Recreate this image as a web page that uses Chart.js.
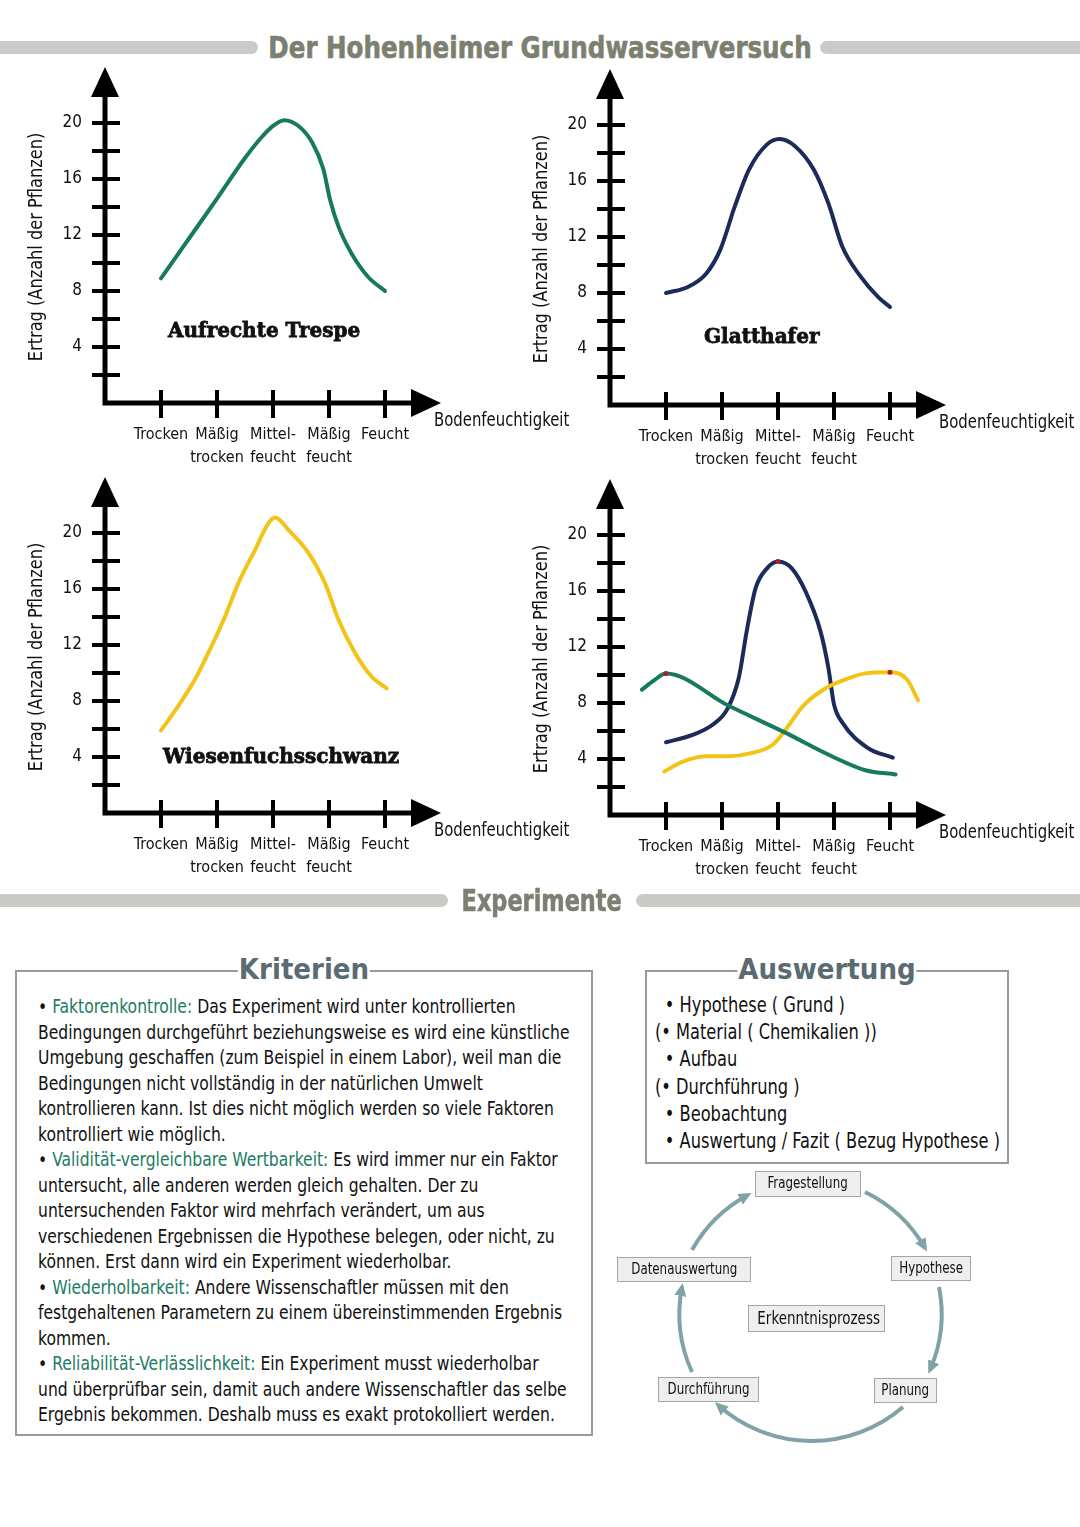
<!DOCTYPE html>
<html lang="de">
<head>
<meta charset="utf-8">
<title>Der Hohenheimer Grundwasserversuch</title>
<script src="https://cdn.jsdelivr.net/npm/chart.js@4.4.1/dist/chart.umd.min.js"></script>
<style>
 :root { --hand: "Liberation Sans Narrow", "DejaVu Sans Condensed", "Arial Narrow", sans-serif; }
 body { margin: 0; background: #fff; }
 #page { position: relative; width: 1080px; height: 1527px; overflow: hidden; font-family: var(--hand); color: #111; }
 canvas { position: absolute; }
 .bar { position: absolute; height: 13px; background: #c9cbc6; }
 .bar.l { border-radius: 0 7px 7px 0; }
 .bar.r { border-radius: 7px 0 0 7px; }
 .head { position: absolute; text-align: center; font-weight: bold; color: #7b8070; font-size: 30px; line-height: 40px; transform-origin: 540px 50%; -webkit-text-stroke: 0.6px #7b8070; }
 .species { position: absolute; font-family: "DejaVu Serif", serif; font-weight: bold; font-size: 20px; line-height: 24px; color: #111; -webkit-text-stroke: 0.8px #111; }
 .box { position: absolute; border: 2px solid #9a9a9a; box-sizing: border-box; }
 .boxtitle { position: absolute; top: -20px; left: 50%; transform: translateX(-50%); background: #fff; padding: 0 1px; font-weight: bold; font-size: 29px; line-height: 34px; color: #5a6b74; }
 .crit { position: absolute; left: 21px; top: 22px; font-size: 20px; line-height: 25.5px; white-space: nowrap; transform: scaleX(0.866); transform-origin: 0 0; }
 .crit b { font-weight: normal; color: #1c7c64; }
 .eval { position: absolute; left: 8px; top: 19px; font-size: 22px; line-height: 27.2px; white-space: nowrap; transform: scaleX(0.82); transform-origin: 0 0; }
 .eval .in { padding-left: 12px; }
 .step { position: absolute; background: #efefef; border: 1.5px solid #a5a5a5; box-sizing: border-box; font-size: 15px; text-align: center; white-space: nowrap; }
 .step span { display: inline-block; transform: scaleX(0.88); }
</style>
</head>
<body>
<div id="page">

 <!-- top header -->
 <div class="bar l" style="left:0;top:41px;width:258px"></div>
 <div class="bar r" style="left:820px;top:41px;width:260px"></div>
 <div class="head" style="left:0;top:28px;width:1080px;transform:scaleX(0.91)">Der Hohenheimer Grundwasserversuch</div>

 <canvas id="chartTrespe" width="575" height="430" style="left:0;top:60px"></canvas>
 <canvas id="chartHafer" width="575" height="430" style="left:505px;top:62px"></canvas>
 <canvas id="chartFuchs" width="575" height="430" style="left:0;top:470px"></canvas>
 <canvas id="chartAll" width="575" height="430" style="left:505px;top:472px"></canvas>

 <div class="species" style="left:168px;top:318px">Aufrechte Trespe</div>
 <div class="species" style="left:704px;top:324px">Glatthafer</div>
 <div class="species" style="left:163px;top:744px">Wiesenfuchsschwanz</div>

 <!-- second header -->
 <div class="bar l" style="left:0;top:894px;width:448px"></div>
 <div class="bar r" style="left:636px;top:894px;width:444px"></div>
 <div class="head" style="left:0;top:881px;width:1084px;transform:scaleX(0.83)">Experimente</div>

 <div class="box" style="left:15px;top:970px;width:578px;height:466px">
  <div class="boxtitle">Kriterien</div>
  <div class="crit">
   • <b>Faktorenkontrolle:</b> Das Experiment wird unter kontrollierten<br>
   Bedingungen durchgeführt beziehungsweise es wird eine künstliche<br>
   Umgebung geschaffen (zum Beispiel in einem Labor), weil man die<br>
   Bedingungen nicht vollständig in der natürlichen Umwelt<br>
   kontrollieren kann. Ist dies nicht möglich werden so viele Faktoren<br>
   kontrolliert wie möglich.<br>
   • <b>Validität-vergleichbare Wertbarkeit:</b> Es wird immer nur ein Faktor<br>
   untersucht, alle anderen werden gleich gehalten. Der zu<br>
   untersuchenden Faktor wird mehrfach verändert, um aus<br>
   verschiedenen Ergebnissen die Hypothese belegen, oder nicht, zu<br>
   können. Erst dann wird ein Experiment wiederholbar.<br>
   • <b>Wiederholbarkeit:</b> Andere Wissenschaftler müssen mit den<br>
   festgehaltenen Parametern zu einem übereinstimmenden Ergebnis<br>
   kommen.<br>
   • <b>Reliabilität-Verlässlichkeit:</b> Ein Experiment musst wiederholbar<br>
   und überprüfbar sein, damit auch andere Wissenschaftler das selbe<br>
   Ergebnis bekommen. Deshalb muss es exakt protokolliert werden.
  </div>
 </div>

 <div class="box" style="left:645px;top:970px;width:364px;height:194px">
  <div class="boxtitle">Auswertung</div>
  <div class="eval">
   <div class="in">• Hypothese ( Grund )</div>
   <div>(• Material ( Chemikalien ))</div>
   <div class="in">• Aufbau</div>
   <div>(• Durchführung )</div>
   <div class="in">• Beobachtung</div>
   <div class="in">• Auswertung / Fazit ( Bezug Hypothese )</div>
  </div>
 </div>

 <!-- cycle of the research process -->
 <svg width="1080" height="1527" style="position:absolute;left:0;top:0">
  <defs>
   <marker id="head" markerWidth="14" markerHeight="14" refX="9" refY="7" orient="auto" markerUnits="userSpaceOnUse">
    <path d="M0,1 L13,7 L0,13 z" fill="#7fa3a6"/>
   </marker>
  </defs>
  <g fill="none" stroke="#7fa3a6" stroke-width="4" marker-end="url(#head)">
   <path d="M692 1250 A140 140 0 0 1 748 1195"/>
   <path d="M865 1192 A140 140 0 0 1 925 1248"/>
   <path d="M939 1287 A140 140 0 0 1 930 1370"/>
   <path d="M903 1407 A140 140 0 0 1 718 1405"/>
   <path d="M692 1372 A140 140 0 0 1 682 1287"/>
  </g>
 </svg>
 <div class="step" style="left:755px;top:1171px;width:106px;height:26px;line-height:23px"><span>Fragestellung</span></div>
 <div class="step" style="left:617px;top:1257px;width:134px;height:25px;line-height:22px"><span>Datenauswertung</span></div>
 <div class="step" style="left:891px;top:1256px;width:80px;height:25px;line-height:22px"><span>Hypothese</span></div>
 <div class="step" style="left:748px;top:1305px;width:137px;height:27px;line-height:24px;font-size:17px"><span>Erkenntnisprozess</span></div>
 <div class="step" style="left:658px;top:1377px;width:101px;height:25px;line-height:22px"><span>Durchführung</span></div>
 <div class="step" style="left:874px;top:1378px;width:63px;height:25px;line-height:22px"><span>Planung</span></div>
</div>

<script>
'use strict';

// x axis: soil moisture steps and their labels
const moistureSteps = [1, 2, 3, 4, 5]
const moistureLabels = [['Trocken'], ['Mäßig', 'trocken'], ['Mittel-', 'feucht'], ['Mäßig', 'feucht'], ['Feucht']]

// y axis: yield ticks, only every second one gets a number
const yieldTicks = [2, 4, 6, 8, 10, 12, 14, 16, 18, 20]
const yieldLabelled = [4, 8, 12, 16, 20]

// Aufrechte Trespe
const trespeX = [1, 1.5, 2, 2.5, 2.8, 3.0, 3.2, 3.45, 3.7, 3.9, 4.02, 4.17, 4.4, 4.7, 5]
const trespeY = [8.9, 11.75, 14.6, 17.5, 19.0, 19.8, 20.2, 19.8, 18.6, 16.7, 14.5, 12.6, 10.7, 9.0, 8.0]

// Glatthafer
const haferX = [1, 1.4, 1.72, 1.97, 2.23, 2.48, 2.8, 3.03, 3.3, 3.64, 3.9, 4.15, 4.47, 4.79, 5]
const haferY = [8.0, 8.45, 9.4, 11.1, 14.2, 16.8, 18.6, 19.0, 18.5, 16.8, 14.4, 11.3, 9.2, 7.7, 7.0]

// Wiesenfuchsschwanz
const fuchsX = [1, 1.3, 1.6, 1.9, 2.14, 2.38, 2.68, 2.92, 3.04, 3.28, 3.63, 3.93, 4.17, 4.47, 4.77, 5.03]
const fuchsY = [5.9, 7.6, 9.5, 11.9, 14.0, 16.4, 18.8, 20.7, 21.1, 20.2, 18.6, 16.4, 13.8, 11.4, 9.7, 8.9]

// combined chart: the three species grown together
const mixTrespeX = [0.57, 0.78, 1.0, 2.12, 3.12, 3.96, 4.56, 5.1]
const mixTrespeY = [8.95, 9.6, 10.1, 7.8, 5.9, 4.2, 3.2, 2.9]
const mixHaferX = [1.0, 1.46, 1.85, 2.1, 2.3, 2.44, 2.6, 2.8, 3.0, 3.25, 3.5, 3.76, 3.9, 4.0, 4.15, 4.6, 5.05]
const mixHaferY = [5.2, 5.7, 6.5, 7.6, 9.8, 13.1, 16.2, 17.6, 18.1, 17.6, 15.9, 13.1, 10.5, 7.9, 6.6, 4.8, 4.1]
const mixFuchsX = [0.97, 1.29, 1.74, 2.12, 2.5, 2.9, 3.1, 3.45, 3.83, 4.15, 4.54, 4.99, 5.3, 5.5]
const mixFuchsY = [3.1, 3.8, 4.2, 4.2, 4.4, 5.0, 5.9, 7.8, 9.0, 9.6, 10.1, 10.2, 9.7, 8.2]

// red dots on the maxima in the combined chart
const peakX = [1.0, 3.0, 5.0]
const peakY = [10.1, 18.1, 10.2]

const GREEN = '#177a5e'
const NAVY = '#1c2b5a'
const YELLOW = '#f4c317'
const HAND = '"Liberation Sans Narrow", "DejaVu Sans Condensed", sans-serif'

/**
 * Helper to zip x and y arrays into chart points
 */
const toPoints = (xs, ys) => xs.map((x, i) => ({ x: x, y: ys[i] }))

/**
 * Build a smooth line dataset
 */
const curve = (xs, ys, color) => ({
 data: toPoints(xs, ys),
 showLine: true,
 borderColor: color,
 borderWidth: 4,
 pointRadius: 0,
 cubicInterpolationMode: 'monotone',
 borderCapStyle: 'round'
})

/*
Plugin: hand-drawn style axes with arrows and crossing tick marks
*/
const arrowAxes = {
 id: 'arrowAxes',
 beforeDatasetsDraw(chart) {
  const { ctx, scales: { x, y } } = chart
  const x0 = x.getPixelForValue(0)
  const y0 = y.getPixelForValue(0)
  const xEnd = x.getPixelForValue(x.max)
  const yEnd = y.getPixelForValue(y.max)

  ctx.save()
  ctx.strokeStyle = '#000'
  ctx.fillStyle = '#000'
  ctx.lineWidth = 5
  ctx.beginPath()
  ctx.moveTo(x0, yEnd + 20)
  ctx.lineTo(x0, y0)
  ctx.lineTo(xEnd - 20, y0)
  ctx.stroke()

  // arrow heads
  ctx.beginPath()
  ctx.moveTo(x0, yEnd)
  ctx.lineTo(x0 - 14, yEnd + 30)
  ctx.lineTo(x0 + 14, yEnd + 30)
  ctx.closePath()
  ctx.fill()
  ctx.beginPath()
  ctx.moveTo(xEnd, y0)
  ctx.lineTo(xEnd - 30, y0 - 14)
  ctx.lineTo(xEnd - 30, y0 + 14)
  ctx.closePath()
  ctx.fill()

  // tick marks crossing the axes
  ctx.lineWidth = 4
  yieldTicks.forEach(v => {
   const py = y.getPixelForValue(v)
   ctx.beginPath()
   ctx.moveTo(x0 - 13, py)
   ctx.lineTo(x0 + 15, py)
   ctx.stroke()
  })
  moistureSteps.forEach(v => {
   const px = x.getPixelForValue(v)
   ctx.beginPath()
   ctx.moveTo(px, y0 - 13)
   ctx.lineTo(px, y0 + 15)
   ctx.stroke()
  })

  // axis titles, squeezed a little to look like the narrow hand font
  ctx.fillStyle = '#111'
  ctx.textBaseline = 'middle'
  ctx.textAlign = 'left'
  ctx.font = '19px ' + HAND
  ctx.save()
  ctx.translate(xEnd - 7, y0 + 18)
  ctx.scale(0.87, 1)
  ctx.fillText('Bodenfeuchtigkeit', 0, 0)
  ctx.restore()
  ctx.translate(37, chart.chartArea.top + 180)
  ctx.rotate(-Math.PI / 2)
  ctx.scale(0.9, 1)
  ctx.textAlign = 'center'
  ctx.font = '20px ' + HAND
  ctx.fillText('Ertrag (Anzahl der Pflanzen)', 0, 0)
  ctx.restore()
 }
}

// drop the automatic label padding so the chart area is exactly where the axes are drawn
const noPad = s => {
 s.paddingTop = 0
 s.paddingBottom = 0
 s.paddingLeft = 0
 s.paddingRight = 0
}

/**
 * Function to create one of the four charts
 * @param {String} canvasId id of the target canvas
 * @param {Array} datasets line datasets to draw
 */
const makeChart = (canvasId, datasets) => {
 const tickFont = { family: HAND, size: 16, lineHeight: 1.4 }
 new Chart(document.getElementById(canvasId), {
  type: 'scatter',
  data: { datasets: datasets },
  options: {
   responsive: false,
   animation: false,
   layout: { padding: { top: 7, right: 134, left: 0, bottom: 0 } },
   plugins: { legend: { display: false }, tooltip: { enabled: false } },
   scales: {
    x: {
     type: 'linear', min: 0, max: 6,
     afterBuildTicks: s => { s.ticks = moistureSteps.map(v => ({ value: v })) },
     afterFit: s => { s.height = 87; noPad(s) },
     grid: { display: false, drawTicks: false },
     border: { display: false },
     ticks: {
      autoSkip: false, maxRotation: 0, minRotation: 0, padding: 21,
      color: '#111', font: tickFont,
      callback: v => moistureLabels[moistureSteps.indexOf(v)]
     }
    },
    y: {
     type: 'linear', min: 0, max: 24,
     afterBuildTicks: s => { s.ticks = yieldTicks.map(v => ({ value: v })) },
     afterFit: s => { s.width = 105; noPad(s) },
     grid: { display: false, drawTicks: false },
     border: { display: false },
     ticks: {
      padding: 23, color: '#111', font: { family: HAND, size: 17 },
      callback: v => yieldLabelled.includes(v) ? String(v) : ''
     }
    }
   }
  },
  plugins: [arrowAxes]
 })
}

makeChart('chartTrespe', [curve(trespeX, trespeY, GREEN)])
makeChart('chartHafer', [curve(haferX, haferY, NAVY)])
makeChart('chartFuchs', [curve(fuchsX, fuchsY, YELLOW)])
makeChart('chartAll', [
 curve(mixTrespeX, mixTrespeY, GREEN),
 curve(mixFuchsX, mixFuchsY, YELLOW),
 curve(mixHaferX, mixHaferY, NAVY),
 // red dots sit on top of the lines
 { data: toPoints(peakX, peakY), order: -1, pointRadius: 2.5, pointBackgroundColor: '#b01e28', pointBorderWidth: 0 }
])
</script>
</body>
</html>
